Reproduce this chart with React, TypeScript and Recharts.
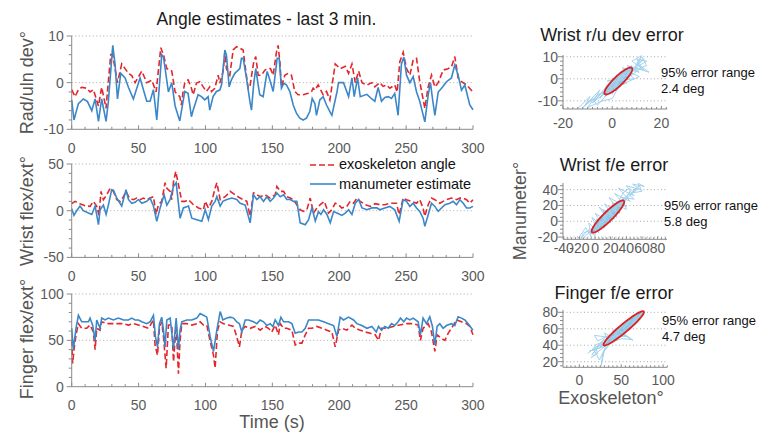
import React from 'react';
import { LineChart, ComposedChart, Line, Area, XAxis, YAxis, ReferenceLine, Legend } from 'recharts';

type P = [number, number];

// ---------- time-series data: [time (s), angle (deg)] ----------
const ruExo: P[] = [[0,-1.5],[2.5,-3],[5,-1.5],[7.5,-1],[11.2,-1.2],[13.7,-2],[16.2,-1.5],[20,-5],[22.4,-1],[25.7,-5.5],[26.7,-2],[29.2,6],[30.7,6],[32.4,3],[34.2,0],[37.4,4],[39.9,3],[42.4,2],[44.9,1.5],[47.4,0],[52.4,2.5],[56.1,0],[59.9,0.5],[63.1,-2],[66.6,7.5],[68.6,6],[71.1,3],[74.8,2.5],[77.3,-2],[80.8,-3],[82,-4.8],[83.3,-1.9],[84.5,-0.1],[87,0.6],[89.5,-1.2],[90.8,-2.6],[93.3,-0.1],[95.8,0.2],[98.3,-0.9],[100.7,-1.9],[103.2,-0.9],[104.5,-1.9],[107,-1.2],[109.5,1.6],[110.7,-0.1],[113.2,2.4],[114.5,6.5],[115.7,3],[118.2,1.6],[120.7,7],[123.2,7.7],[125.7,7.4],[128.2,7],[129.4,4.1],[131.9,-1.2],[133.2,-0.9],[136.1,4.5],[137.6,5.6],[139.4,1.6],[141.9,1.6],[144.4,2.7],[146.9,3],[148.6,3],[150.6,1.6],[153.1,6.6],[154.3,8],[155.6,4.5],[156.8,-0.9],[159.3,1.6],[161.8,2],[164.3,1.6],[166.8,-1.9],[169.3,-2.6],[173,-2.6],[176.8,-2.3],[179.3,-1.9],[180.5,-1.2],[181.8,-1.6],[184.3,-0.5],[185.5,-1.2],[188,-2.6],[190.5,-1.9],[193,-3.7],[197,4],[200.7,3],[204.5,3.5],[207,2],[209.5,4],[212,0],[214.5,2.5],[217,0],[220.7,-0.5],[224.4,0],[226.6,-0.9],[230.3,0],[232.8,-0.8],[235.3,-0.5],[237.8,-1.2],[241.5,-0.5],[243.3,-2],[245.3,4.5],[247.8,6.5],[250.3,3],[252.8,1.6],[255.3,4.9],[257.8,5.2],[260.2,0.2],[264,-5.5],[266.5,-0.9],[269,1.6],[271.5,-0.9],[274,0],[277.7,2.7],[281.4,3],[283.9,3.4],[286.4,5.6],[288.9,1],[291.4,0.2],[295.2,-0.5],[300,-2]];
const ruManu: P[] = [[0,-3.7],[1.7,-8],[5,-4.5],[8.7,-3.5],[11.7,-4],[15,-6],[17.5,-3.5],[20,-8.3],[22.4,-3.5],[25.7,-8.3],[27.4,-4],[30.7,8],[32.4,4],[34.2,-3.5],[36.7,2],[39.9,1],[42.4,-1],[46.1,-3.5],[51.1,1],[54.1,-2],[56.1,-4],[58.6,-4],[61.1,-1.5],[63.6,-8],[67.3,6],[68.6,5.5],[72.3,-2],[74.8,0],[77.3,-5],[80.8,-8.2],[84.5,-1.9],[87,-2.3],[89.5,-7.3],[90.8,-5.9],[94.5,-2.6],[97,-3],[99.5,-3.7],[102,-3],[103.2,-5.9],[105.7,-3],[108.2,-1.9],[110.7,-1.6],[112,-0.5],[114.5,7],[115.7,5.9],[117.7,-0.9],[119.4,0.6],[121.9,2],[125.7,3],[126.9,5.2],[128.2,5.2],[130.7,0.9],[133.2,-4],[134.4,-5.9],[136.1,-0.1],[137.6,3],[139.4,-0.5],[140.6,-2.6],[143.1,-3],[146.1,2.4],[148.1,0.6],[150.6,-1.9],[153.6,5.2],[155.1,5.2],[156.8,-1.2],[158.6,-0.1],[160.6,-0.5],[163.1,-1.9],[165.6,-4.8],[168.1,-6.6],[170.5,-7.6],[173,-8],[175.5,-7.6],[178,-6.2],[179.8,-3.4],[181.8,-4.5],[183,-7],[185.5,-3.7],[188,-3],[190.5,-4.8],[193,-6.2],[194.5,-7],[198.3,-2],[199.5,0],[203.2,0],[207,-3],[209.5,1],[211.2,-3],[213.7,1],[215.7,-3],[220.7,-2.5],[224.4,-3.5],[226.6,-4],[229.1,-1],[231.6,-4],[234.1,-3.2],[236.6,-3],[239.1,-3.4],[241.5,-2.3],[244,-7],[246.5,4],[248.3,5.5],[250.3,1.6],[252.8,0],[255.3,1.3],[257.8,-2],[260.2,-4],[264,-8.4],[266.5,-2.6],[268.2,0],[269.7,-3.4],[271.5,-7],[274,-2],[276.5,-1.2],[280.2,0.2],[283.9,1],[286.4,3.8],[288.9,1.6],[291.4,-1.6],[293.9,-0.5],[297.6,-4.8],[300,-5.8]];

const feExo: P[] = [[0,7.5],[2.5,10],[6.2,7.5],[10,5.4],[13.7,4.6],[16.2,10],[18.7,4.6],[20.4,-5],[21.9,20.7],[23.7,11.8],[26.2,17],[28.7,24],[31.2,20.7],[33.7,11.8],[36.2,10],[38.7,15],[40.6,20.7],[43.1,13.5],[46.1,11.8],[48.6,13.5],[51.1,11.8],[53.6,13.5],[56.1,11.8],[58.6,13.5],[61.1,15],[63.1,-4],[64.8,6.4],[67.3,10],[69.8,30],[71.1,24],[73.6,20.7],[74.8,11.8],[76.1,31],[77.8,42],[79.8,28],[82.3,10],[84.8,10],[87.3,11.8],[91,6.4],[94.8,2.9],[98.5,1],[99.8,10],[102.2,2.9],[104.7,10],[107.2,24],[108.5,30],[111,11.8],[114.7,15],[118.5,20.7],[122.2,17],[125.9,13.5],[130.9,10],[133.4,-6],[135.9,19],[138.4,17],[140.9,15],[144.6,17],[148.4,13.5],[152.1,17],[153.4,26],[155.9,20.7],[158.4,20.7],[160.8,15],[163.3,13.5],[165.8,11.8],[168.3,6.4],[170.8,1],[173.3,-0.7],[175.8,1],[178.3,13.5],[180.8,-2.5],[183.3,2.9],[185.8,6.4],[188.8,10],[192,-2.5],[194.5,1],[197,8],[199.5,6.4],[202,2.9],[205.7,4.6],[208.2,10],[210.7,8],[213.2,13.5],[215.7,10],[219.5,6.4],[223.2,4.6],[226.9,7.5],[230.3,6.4],[234.1,6.4],[237.8,8],[242.8,8],[244.8,-4.3],[247.8,13.5],[250.3,11.8],[254,10],[257.8,8],[260.2,11.8],[262.7,2.9],[264,-6],[266.5,6.4],[269,13.5],[271.5,11.8],[275.2,8],[277.7,10],[280.2,11.8],[283.9,13.5],[287.7,11.8],[290.2,13.5],[292.7,13.5],[295.2,11.8],[297.6,8],[300,11.8]];
const feManu: P[] = [[0,2],[1.7,-5],[3.7,0],[6.2,5],[8.7,0],[12.5,-2.5],[15,-4],[17.5,5],[20,-15],[21.2,1],[23.7,6],[25.7,-4],[27.4,6],[29.9,22.5],[31.2,22],[33.7,13.5],[37.4,5],[40.6,22.5],[42.4,12],[44.9,8],[47.4,9],[49.9,12],[52.4,8],[56.1,10],[58.6,13.5],[61.1,5],[63.6,-11.4],[66.1,3],[69.1,17],[71.1,6],[73.6,12],[76.1,26],[78.1,30],[81,-8],[83.5,3],[87.3,5],[89.8,-8],[93.5,-9.6],[97.3,-11.4],[99.8,1],[102.2,-9.6],[104.7,5],[107.2,10],[108.5,15],[111,5],[113,10],[116,12],[119.7,13.5],[123.4,12],[125.9,8],[129.7,6],[133.4,-13],[135.9,17],[138.4,12],[140.9,15],[143.4,10],[145.9,15],[148.4,10],[150.9,13.5],[153.4,19],[155.9,15],[158.4,17],[160.8,12],[163.3,12],[165.8,10],[168.3,10],[170.8,-13],[174.6,-15],[177.1,-9.6],[179.6,3],[182.1,-11],[184.5,-1],[186.3,-4],[188.3,1],[190.8,-4],[193.3,-13],[195.8,-1],[198.3,-2.5],[202,-5],[204.5,-2.5],[207,1],[209.5,-4],[212,8],[214.5,12],[217,3],[220.7,1],[224.4,3],[228.2,3],[230.3,1],[234.1,2.9],[237.8,4.6],[241.5,1],[244.8,-11.4],[247.8,11.8],[250.3,10],[252.8,4.6],[255.3,8],[257.8,2.9],[260.2,-0.7],[262.7,-8],[264,-16.8],[266.5,-4.3],[269,8],[271.5,4.6],[274,-0.7],[276.5,2.9],[279,6.4],[282.7,8],[285.2,10],[287.7,6.4],[290.2,11.8],[292.7,8],[295.2,2.9],[297.6,2.9],[300,4.6]];

const fgExo: P[] = [[0,50],[0.7,25],[1.7,40],[3.2,55.8],[5,68],[7.5,63],[11.2,63],[13.7,66.5],[16.2,59],[17.5,40],[18.7,63],[21.2,61],[22.4,70],[26.2,68],[29.9,68],[33.7,68],[38.7,68],[42.4,66.5],[46.1,68],[49.9,66.5],[53.6,65],[57.4,63],[61.1,72],[62.3,45],[64.1,34],[65.6,63],[67.3,70],[68.6,54],[70.6,20],[72.3,66.5],[74.8,66.5],[76.1,27],[78.1,66.5],[79.8,14],[81,50],[82.3,68],[86,68],[89.8,66.5],[93.5,68],[96,70],[98.5,66.5],[101,66.5],[103.5,49],[106,34],[107.2,20],[109,61],[111,70],[113.5,68],[117.2,66.5],[121,65],[123.4,54],[125.4,43],[127.2,61],[129.7,65],[133.4,63],[137.2,65],[140.9,61],[144.6,65],[147.1,63],[149.6,59],[152.1,66.5],[154.6,56],[155.9,68],[158.4,63],[160.8,63],[164.6,61],[167.1,45],[169.6,47],[172.1,47],[174.6,56],[177.1,63],[179.6,63],[183.3,65],[187,63],[190.8,61],[194.5,59],[197,43],[199.5,61],[202,63],[205.7,61],[209.5,66.5],[212,63],[215.7,61],[219.5,59],[223.2,57.6],[226.9,56],[229.4,50],[231.6,63],[235.3,63],[240.3,65],[245.3,66.5],[250.3,68],[255.3,68],[259,66.5],[260.7,50],[262.7,63],[266.5,68],[269,59],[271.5,38],[273.2,56],[276.5,52],[279,50],[281.4,57.6],[283.9,63],[287.7,72],[291.4,70],[295.2,68],[297.6,65],[300,56]];
const fgManu: P[] = [[0,63],[1.2,40],[3.2,63],[5,77],[7.5,70],[10,70],[12.5,70],[13.7,74],[15.7,66],[17.5,50],[18.7,72],[21.2,63],[22.4,74],[24.9,72],[27.4,74],[31.2,72],[34.9,74],[38.7,72],[42.4,72],[44.9,74],[47.4,72],[49.9,72],[52.4,70],[56.1,68],[58.6,70],[61.1,77],[62.6,54],[64.1,43],[65.6,68],[67.3,75],[68.6,61],[69.8,43],[71.1,72],[73.6,74],[76.1,41],[78.1,74],[79.8,40],[81,61],[82.3,70],[86,72],[89.8,72],[93.5,74],[96,79],[98.5,77],[101,75],[103.5,54],[106,38],[108.5,61],[111,81],[113,72],[116,74],[118.5,75],[121,74],[123.4,70],[125.4,68],[127.2,59],[129.7,72],[132.2,72],[135.9,70],[138.4,68],[140.9,72],[143.4,70],[145.9,66],[148.4,68],[150.4,65],[152.1,72],[154.6,66],[156.4,75],[158.4,70],[162.1,70],[164.6,68],[167.1,57.6],[169.6,59],[172.1,59],[174.6,63],[177.1,72],[180.8,72],[184.5,72],[188.3,70],[192,68],[195.8,66],[198.3,54],[200.7,75],[203.2,72],[207,75],[210.7,72],[213.2,68],[216.9,66],[220.7,63],[224.4,65],[227.7,59],[229.4,65],[231.6,61],[234.1,65],[236.6,63],[239.1,68],[241.5,66],[244,70],[245.8,74],[248.3,70],[250.3,74],[252.8,72],[255.3,74],[259,70],[260.7,56],[262.7,74],[265.2,68],[267.7,75.5],[269.7,65],[271.5,45],[273.2,65],[275.2,68],[277.7,63],[280.2,66],[283.9,68],[286.4,66],[288.9,75.5],[291.4,74],[293.9,72],[296.4,68],[298.9,63],[300,61]];

// ---------- error-scatter clouds: [exoskeleton, manumeter] ----------
const ruCloud: P[] = [[-14,-13.5],[-9,-8],[-11,-12],[-5,-5],[-8,-11],[-2,-3],[-5,-9],[1,-1],[-3,-6],[3,2],[0,-7],[5,3],[-1,-4],[6,-2],[2,1],[8,2],[-2,-1],[9,0],[4,5],[11,3],[6,6],[13,4],[8,8],[12,10.5],[9,5],[15,3],[10,7],[13,9],[7,3],[11,1],[3,-3],[0,-9],[-4,-10],[-10,-13],[-6,-7],[2,-5],[5,-1],[9,4],[14,6],[12,10],[10,6],[4,0],[7,5],[1,-3],[4,2],[-1,-6],[2,-2],[-3,-8],[0,-4],[-7,-10],[-4,-6],[-12,-13],[-8,-9],[-6,-12],[-2,-7],[3,-1],[7,1],[12,5],[10,9],[14,8],[11,6],[6,2],[8,6],[5,4],[2,-1],[-1,-2]];
const feCloud: P[] = [[-22,-22],[-12,-8],[-5,-20],[-8,-2],[5,-15],[-4,5],[12,-8],[0,10],[20,-2],[5,18],[25,3],[12,22],[32,10],[18,30],[40,18],[25,35],[45,25],[30,42],[50,32],[40,45],[58,40],[48,47],[63,44],[55,48],[60,38],[42,35],[50,28],[35,30],[40,15],[22,24],[28,5],[10,15],[15,-5],[2,3],[0,-18],[-10,-12],[-18,-22],[-15,-15],[-2,-8],[-6,-14],[8,0],[3,-10],[15,10],[10,-2],[20,15],[18,5],[28,22],[24,12],[35,28],[30,18],[45,38],[38,25],[52,42],[46,33],[56,45],[50,36],[44,42],[36,36],[30,25],[22,14],[16,8],[8,5],[0,-5],[-8,-15],[-14,-20]];
const fgCloud: P[] = [[10,30],[25,42],[15,28],[30,48],[20,35],[12,33],[28,38],[35,52],[22,45],[18,52],[32,50],[40,47],[28,30],[26,15],[30,34],[38,44],[45,55],[35,42],[50,48],[62,47],[55,52],[45,50],[40,58],[50,62],[42,54],[55,66],[60,70],[52,60],[65,72],[70,78],[62,65],[75,80],[68,70],[58,62],[14,25],[22,30],[18,40],[28,44],[24,36],[34,45],[30,55],[38,50],[46,52],[58,50],[64,46],[52,55],[44,60],[48,56],[36,48],[26,40],[16,36],[20,30],[24,22],[32,40]];

// 95% error ellipses: centre, semi-axes, tilt (deg)
const ruEll = { cx: 2.5, cy: -1, a: 8.1, b: 2.0, angle: 47.5 };
const feEll = { cx: 16.5, cy: 6, a: 28.5, b: 6.0, angle: 44.3 };
const fgEll = { cx: 53, cy: 60.5, a: 31.5, b: 5.0, angle: 40.5 };

const TIME_MAJOR = [0, 50, 100, 150, 200, 250, 300];
const TITLES = ['Wrist r/u dev error', 'Wrist f/e error', 'Finger f/e error'];
const ERR_RANGE = ['2.4 deg', '5.8 deg', '4.7 deg'];

// ---------- styling ----------
const FONT = '"Liberation Sans", Arial, Helvetica, sans-serif';
const RED = '#E3262B';
const BLUE = '#3B87C8';
const AXIS = '#8a8a8a';
const TICKC = '#5a5a5a';
const GRID = '#a8a8a8';
const CLOUD = '#A3D2EC';
const FILL = '#8CC2E0';
const ELL = '#DD1F22';

const steps = (a: number, b: number, s: number) => {
  const out: number[] = [];
  for (let v = a; v <= b + 1e-9; v += s) out.push(Math.round(v * 1000) / 1000);
  return out;
};
const toTV = (arr: P[]) => arr.map(([t, v]) => ({ t, v }));
const toXY = (arr: P[]) => arr.map(([x, y]) => ({ x, y }));

function ellipseOutline(e: any) {
  const c = Math.cos((e.angle * Math.PI) / 180), s = Math.sin((e.angle * Math.PI) / 180);
  const pts: { x: number; y: number }[] = [];
  for (let i = 0; i <= 90; i++) {
    const th = (i / 90) * Math.PI * 2;
    const u = e.a * Math.cos(th), w = e.b * Math.sin(th);
    pts.push({ x: e.cx + u * c - w * s, y: e.cy + u * s + w * c });
  }
  return pts;
}
function ellipseBand(e: any) {
  const c = Math.cos((e.angle * Math.PI) / 180), s = Math.sin((e.angle * Math.PI) / 180);
  const half = Math.sqrt(e.a * e.a * c * c + e.b * e.b * s * s);
  const A = (s * s) / (e.a * e.a) + (c * c) / (e.b * e.b);
  const out: { x: number; r: number[] }[] = [];
  for (let i = 0; i <= 80; i++) {
    const dx = -half + (2 * half * i) / 80;
    const B = 2 * dx * c * s * (1 / (e.a * e.a) - 1 / (e.b * e.b));
    const C = dx * dx * ((c * c) / (e.a * e.a) + (s * s) / (e.b * e.b)) - 1;
    const d = Math.sqrt(Math.max(0, B * B - 4 * A * C));
    const y1 = (-B - d) / (2 * A), y2 = (-B + d) / (2 * A);
    out.push({ x: e.cx + dx, r: [e.cy + y1, e.cy + y2] });
  }
  return out;
}

// ---------- ticks ----------
const XTick = (props: any) => {
  const { x, y, payload } = props;
  const v = payload.value;
  const major = TIME_MAJOR.includes(v);
  return (
    <g>
      <line x1={x} x2={x} y1={y} y2={y - (major ? 4 : 2.5)} stroke={AXIS} />
      {major && (
        <text x={x} y={y + 23.5} textAnchor="middle" fontSize={14} fill={TICKC}>
          {v}
        </text>
      )}
    </g>
  );
};
const makeYTick = (majors: number[], labelGap: number, fs: number) => (props: any) => {
  const { x, y, payload } = props;
  const v = payload.value;
  const major = majors.includes(v);
  return (
    <g>
      <line x1={x} x2={x - (major ? 5 : 3)} y1={y} y2={y} stroke={AXIS} />
      {major && (
        <text x={x - labelGap} y={y} dy="0.36em" textAnchor="end" fontSize={fs} fill={TICKC}>
          {v}
        </text>
      )}
    </g>
  );
};
const makeXTickErr = (majors: number[], dy: number) => (props: any) => {
  const { x, y, payload } = props;
  const v = payload.value;
  const major = majors.includes(v);
  return (
    <g>
      <line x1={x} x2={x} y1={y} y2={y - (major ? 3 : 2)} stroke={AXIS} />
      {major && (
        <text x={x} y={y + dy} textAnchor="middle" fontSize={14} fill={TICKC}>
          {v}
        </text>
      )}
    </g>
  );
};

const LegendBox = () => (
  <div style={{ width: 174, height: 42, background: '#fff', position: 'relative', fontFamily: FONT, fontSize: 14.5, color: '#111' }}>
    <svg width={40} height={42} style={{ position: 'absolute', left: 0, top: 0 }}>
      <line x1={8} x2={34} y1={11} y2={11} stroke={RED} strokeWidth={1.6} strokeDasharray="6 3" />
      <line x1={8} x2={34} y1={30} y2={30} stroke={BLUE} strokeWidth={1.6} />
    </svg>
    <span style={{ position: 'absolute', left: 37, top: 2, lineHeight: '17px', whiteSpace: 'nowrap' }}>exoskeleton angle</span>
    <span style={{ position: 'absolute', left: 37, top: 22, lineHeight: '17px', whiteSpace: 'nowrap' }}>manumeter estimate</span>
  </div>
);

function TimePanel(props: any) {
  const { top, bottom, domain, majors, minorStep, exo, manu, grid, legend } = props;
  const PT = 12, XH = 34, RIGHT = 473, W = 500;
  const h = bottom - top;
  const chartTop = top - PT;
  return (
    <div style={{ position: 'absolute', left: 0, top: chartTop }}>
      <LineChart width={W} height={h + PT + XH} margin={{ top: PT, right: W - RIGHT, bottom: 0, left: 0 }}>
        <XAxis type="number" dataKey="t" domain={[0, 300]} ticks={steps(0, 300, 10)} interval={0} tickSize={0} tickMargin={0} tickLine={false} stroke={AXIS} height={XH} tick={XTick} />
        <YAxis type="number" domain={domain} ticks={steps(domain[0], domain[1], minorStep)} interval={0} width={71.7} tickSize={0} tickMargin={0} tickLine={false} stroke={AXIS} tick={makeYTick(majors, 8, 14)} />
        {grid.map((g: number) => (
          <ReferenceLine key={g} y={g} stroke={GRID} strokeDasharray="1 2.5" />
        ))}
        <Line data={toTV(exo)} dataKey="v" stroke={RED} strokeWidth={1.6} strokeDasharray="6 3" dot={false} isAnimationActive={false} />
        <Line data={toTV(manu)} dataKey="v" stroke={BLUE} strokeWidth={1.6} dot={false} isAnimationActive={false} />
        {legend && (
          <Legend
            layout="horizontal"
            verticalAlign="middle"
            align="center"
            content={() => <LegendBox />}
            wrapperStyle={{ left: 302, top: 154 - chartTop, width: 174, height: 42 }}
          />
        )}
      </LineChart>
    </div>
  );
}

function ErrPanel(props: any) {
  const { rect, xDomain, yDomain, xMajors, xMinor, yMajors, yMinor, cloud, ell, xdy } = props;
  const YW = 50, PT = 10, XH = 30, PR = 14;
  const w = rect.right - rect.left, h = rect.bottom - rect.top;
  return (
    <div style={{ position: 'absolute', left: rect.left - YW, top: rect.top - PT }}>
      <ComposedChart width={w + YW + PR} height={h + PT + XH} margin={{ top: PT, right: PR, bottom: 0, left: 0 }}>
        <XAxis type="number" dataKey="x" domain={xDomain} allowDataOverflow ticks={xMinor} interval={0} tickSize={0} tickMargin={0} tickLine={false} stroke={AXIS} height={XH} tick={makeXTickErr(xMajors, xdy)} />
        <YAxis type="number" domain={yDomain} allowDataOverflow ticks={yMinor} interval={0} width={YW} tickSize={0} tickMargin={0} tickLine={false} stroke={AXIS} tick={makeYTick(yMajors, 5, 14)} />
        {yMajors.map((g: number) => (
          <ReferenceLine key={g} y={g} stroke={GRID} strokeDasharray="1 2.5" />
        ))}
        <Line data={toXY(cloud)} dataKey="y" stroke={CLOUD} strokeWidth={1} dot={false} isAnimationActive={false} />
        <Area data={ellipseBand(ell)} dataKey="r" fill={FILL} fillOpacity={1} stroke="none" isAnimationActive={false} />
        <Line data={ellipseOutline(ell)} dataKey="y" stroke={ELL} strokeWidth={1.8} dot={false} isAnimationActive={false} />
      </ComposedChart>
    </div>
  );
}

export default function App() {
  return (
    <div style={{ position: 'absolute', left: 0, top: 0, width: 758, height: 437, background: '#fff', overflow: 'hidden', fontFamily: FONT }}>
      <TimePanel top={36} bottom={129.3} domain={[-10, 10]} majors={[-10, 0, 10]} minorStep={2} exo={ruExo} manu={ruManu} grid={[10, 0]} />
      <TimePanel top={164.3} bottom={257.7} domain={[-50, 50]} majors={[-50, 0, 50]} minorStep={10} exo={feExo} manu={feManu} grid={[50, 0]} legend />
      <TimePanel top={294} bottom={386.7} domain={[0, 100]} majors={[0, 50, 100]} minorStep={10} exo={fgExo} manu={fgManu} grid={[100, 50]} />

      <ErrPanel rect={{ left: 562.7, right: 667, top: 55, bottom: 109 }} xDomain={[-20, 22.4]} yDomain={[-13.7, 10.8]}
        xMajors={[-20, 0, 20]} xMinor={steps(-20, 22, 2)} yMajors={[-10, 0, 10]} yMinor={steps(-12, 10, 2)} cloud={ruCloud} ell={ruEll} xdy={19} />
      <ErrPanel rect={{ left: 563, right: 667, top: 182.7, bottom: 239 }} xDomain={[-41, 92]} yDomain={[-22.8, 48.4]}
        xMajors={[-40, -20, 0, 20, 40, 60, 80]} xMinor={steps(-40, 90, 5)} yMajors={[-20, 0, 20, 40]} yMinor={steps(-20, 45, 5)} cloud={feCloud} ell={feEll} xdy={14} />
      <ErrPanel rect={{ left: 562.7, right: 667, top: 310, bottom: 367.3 }} xDomain={[-19.5, 105]} yDomain={[13.2, 82.8]}
        xMajors={[0, 50, 100]} xMinor={steps(-15, 105, 5)} yMajors={[20, 40, 60, 80]} yMinor={steps(15, 80, 5)} cloud={fgCloud} ell={fgEll} xdy={18} />

      <svg width={758} height={437} style={{ position: 'absolute', left: 0, top: 0, pointerEvents: 'none' }}>
        <text x={266.5} y={25} textAnchor="middle" fontSize={17.5} fill="#1a1a1a">Angle estimates - last 3 min.</text>
        <text x={33} y={82.7} textAnchor="middle" fontSize={18} fill="#555" transform="rotate(-90 33 82.7)">Rad/uln dev°</text>
        <text x={33} y={211} textAnchor="middle" fontSize={18} fill="#555" transform="rotate(-90 33 211)">Wrist flex/ext°</text>
        <text x={33} y={339} textAnchor="middle" fontSize={18} fill="#555" transform="rotate(-90 33 339)">Finger flex/ext°</text>
        <text x={272} y={428} textAnchor="middle" fontSize={18} fill="#555">Time (s)</text>

        <text x={612} y={40.7} textAnchor="middle" fontSize={18} fill="#1a1a1a">{TITLES[0]}</text>
        <text x={614} y={170.7} textAnchor="middle" fontSize={18} fill="#1a1a1a">{TITLES[1]}</text>
        <text x={614} y={299.3} textAnchor="middle" fontSize={18} fill="#1a1a1a">{TITLES[2]}</text>

        <text x={661} y={77} fontSize={13} fill="#111">95% error range</text>
        <text x={661} y={93.3} fontSize={13} fill="#111">{ERR_RANGE[0]}</text>
        <text x={664} y={210} fontSize={13} fill="#111">95% error range</text>
        <text x={664} y={225.5} fontSize={13} fill="#111">{ERR_RANGE[1]}</text>
        <text x={662} y={325} fontSize={13} fill="#111">95% error range</text>
        <text x={662} y={340.5} fontSize={13} fill="#111">{ERR_RANGE[2]}</text>

        <text x={526} y={211} textAnchor="middle" fontSize={18} fill="#555" transform="rotate(-90 526 211)">Manumeter°</text>
        <text x={611} y={404} textAnchor="middle" fontSize={18} fill="#555">Exoskeleton°</text>
      </svg>
    </div>
  );
}
